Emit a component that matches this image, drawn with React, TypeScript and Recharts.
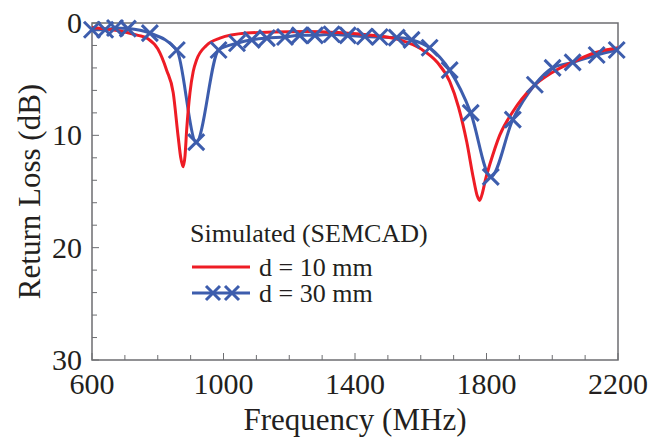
import React from "react";
import { LineChart, Line, XAxis, YAxis, Legend, ReferenceArea } from "recharts";

// d = 10 mm (red, solid)
const redFreq = [600, 650, 700, 740, 770, 800, 827, 847, 862, 870, 877, 883, 888, 898, 908, 918, 948, 989, 1070, 1150, 1250, 1350, 1450, 1536, 1600, 1650, 1688, 1715, 1740, 1760, 1772, 1779, 1786, 1798, 1810, 1840, 1880, 1940, 2000, 2060, 2135, 2200];
const redLoss = [0.4, 0.55, 0.8, 1.1, 1.4, 2.3, 4.2, 6.2, 10.1, 12.0, 12.8, 11.8, 9.5, 6.2, 4.3, 3.3, 2.0, 1.35, 0.9, 0.8, 0.75, 0.85, 1.1, 1.5, 2.3, 3.5, 5.2, 7.5, 10.6, 13.8, 15.4, 15.8, 15.3, 13.8, 12.6, 10.0, 7.9, 5.7, 4.4, 3.5, 2.6, 2.2];

// d = 30 mm (blue, crosses)
const blueFreq = [600, 640, 670, 709, 776, 858, 917, 985, 1041, 1086, 1132, 1187, 1232, 1278, 1329, 1378, 1430, 1475, 1527, 1572, 1627, 1688, 1752, 1813, 1880, 1947, 2001, 2062, 2135, 2196];
const blueLoss = [0.6, 0.6, 0.45, 0.5, 0.9, 2.4, 10.6, 2.4, 1.8, 1.5, 1.35, 1.25, 1.1, 1.1, 1.0, 1.1, 1.2, 1.25, 1.3, 1.5, 2.2, 4.2, 8.0, 13.7, 8.6, 5.5, 4.0, 3.5, 2.85, 2.4];

const xTicks = [600, 700, 800, 900, 1000, 1100, 1200, 1300, 1400, 1500, 1600, 1700, 1800, 1900, 2000, 2100, 2200];
const xLabels = [600, 1000, 1400, 1800, 2200];
const yTicks = [0, 2, 4, 6, 8, 10, 12, 14, 16, 18, 20, 22, 24, 26, 28, 30];
const yLabels = [0, 10, 20, 30];

const redData = redFreq.map((f, i) => ({ f, loss: redLoss[i] }));
const blueData = blueFreq.map((f, i) => ({ f, loss: blueLoss[i] }));

const red = "#ee1c25";
const blue = "#3d5dad";
const axisColor = "#6d6e71";
const textColor = "#231f20";
const font = "'Liberation Serif', 'Times New Roman', serif";

function cross(cx: number, cy: number, s: number) {
  return `M${cx - s},${cy - s}L${cx + s},${cy + s}M${cx - s},${cy + s}L${cx + s},${cy - s}`;
}

function XDot(props: any) {
  const { cx, cy } = props;
  if (cx == null || cy == null) return null;
  return <path d={cross(cx, cy, 8)} stroke={blue} strokeWidth={3} fill="none" />;
}

function XTick(props: any) {
  const { x, y, payload } = props;
  const major = xLabels.includes(payload.value);
  return (
    <g>
      <line x1={x} x2={x} y1={y} y2={y - (major ? 7 : 5)} stroke={axisColor} strokeWidth={1} />
      {major && (
        <text x={x} y={y + 34} textAnchor="middle" fontSize={30} fill={textColor} fontFamily={font}>
          {payload.value}
        </text>
      )}
    </g>
  );
}

function YTick(props: any) {
  const { x, y, payload } = props;
  const major = yLabels.includes(payload.value);
  return (
    <g>
      <line x1={x} x2={x + (major ? 7 : 5)} y1={y} y2={y} stroke={axisColor} strokeWidth={1} />
      {major && (
        <text x={x - 10} y={y + 10} textAnchor="end" fontSize={30} fill={textColor} fontFamily={font}>
          {payload.value}
        </text>
      )}
    </g>
  );
}

function LegendBox() {
  return (
    <svg width={280} height={100} style={{ display: "block", overflow: "visible" }}>
      <text x={5} y={27} fontSize={26} fill={textColor} fontFamily={font}>Simulated (SEMCAD)</text>
      <line x1={7} x2={65} y1={52} y2={52} stroke={red} strokeWidth={3} />
      <text x={74} y={61} fontSize={26} fill={textColor} fontFamily={font}>d = 10 mm</text>
      <line x1={7} x2={65} y1={78} y2={78} stroke={blue} strokeWidth={3} />
      <path d={cross(28, 78, 7) + cross(47, 78, 7)} stroke={blue} strokeWidth={3} fill="none" />
      <text x={74} y={87} fontSize={26} fill={textColor} fontFamily={font}>d = 30 mm</text>
    </svg>
  );
}

export default function App() {
  return (
    <div style={{ position: "absolute", left: 0, top: 0, background: "#fff" }}>
      <LineChart width={662} height={439} margin={{ top: 23, right: 44, bottom: 0, left: 0 }}>
        <XAxis
          dataKey="f"
          type="number"
          domain={[600, 2200]}
          ticks={xTicks}
          interval={0}
          tick={<XTick />}
          tickSize={0}
          tickMargin={0}
          axisLine={false}
          tickLine={false}
          height={79}
          allowDuplicatedCategory={false}
          label={{
            content: (p: any) => (
              <text
                x={p.viewBox.x + p.viewBox.width / 2}
                y={p.viewBox.y + 70}
                textAnchor="middle"
                fontSize={31}
                fill={textColor}
                fontFamily={font}
              >
                Frequency (MHz)
              </text>
            ),
          }}
        />
        <YAxis
          type="number"
          domain={[0, 30]}
          reversed
          ticks={yTicks}
          interval={0}
          tick={<YTick />}
          tickSize={0}
          tickMargin={0}
          axisLine={false}
          tickLine={false}
          width={92}
          label={{
            content: (p: any) => {
              const cx = p.viewBox.x + 40;
              const cy = p.viewBox.y + p.viewBox.height / 2;
              return (
                <text
                  transform={`translate(${cx},${cy}) rotate(-90)`}
                  textAnchor="middle"
                  fontSize={31}
                  fill={textColor}
                  fontFamily={font}
                >
                  Return Loss (dB)
                </text>
              );
            },
          }}
        />
        <ReferenceArea x1={600} x2={2200} y1={0} y2={30} fill="none" stroke={axisColor} strokeWidth={1.5} />
        <Legend
          layout="vertical"
          align="center"
          verticalAlign="middle"
          content={<LegendBox />}
          wrapperStyle={{ left: 185, top: 215, width: 280, height: 100 }}
        />
        <Line
          data={blueData}
          dataKey="loss"
          type="monotone"
          stroke={blue}
          strokeWidth={3}
          dot={<XDot />}
          activeDot={false}
          isAnimationActive={false}
        />
        <Line
          data={redData}
          dataKey="loss"
          type="monotone"
          stroke={red}
          strokeWidth={3}
          dot={false}
          activeDot={false}
          isAnimationActive={false}
        />
      </LineChart>
    </div>
  );
}
